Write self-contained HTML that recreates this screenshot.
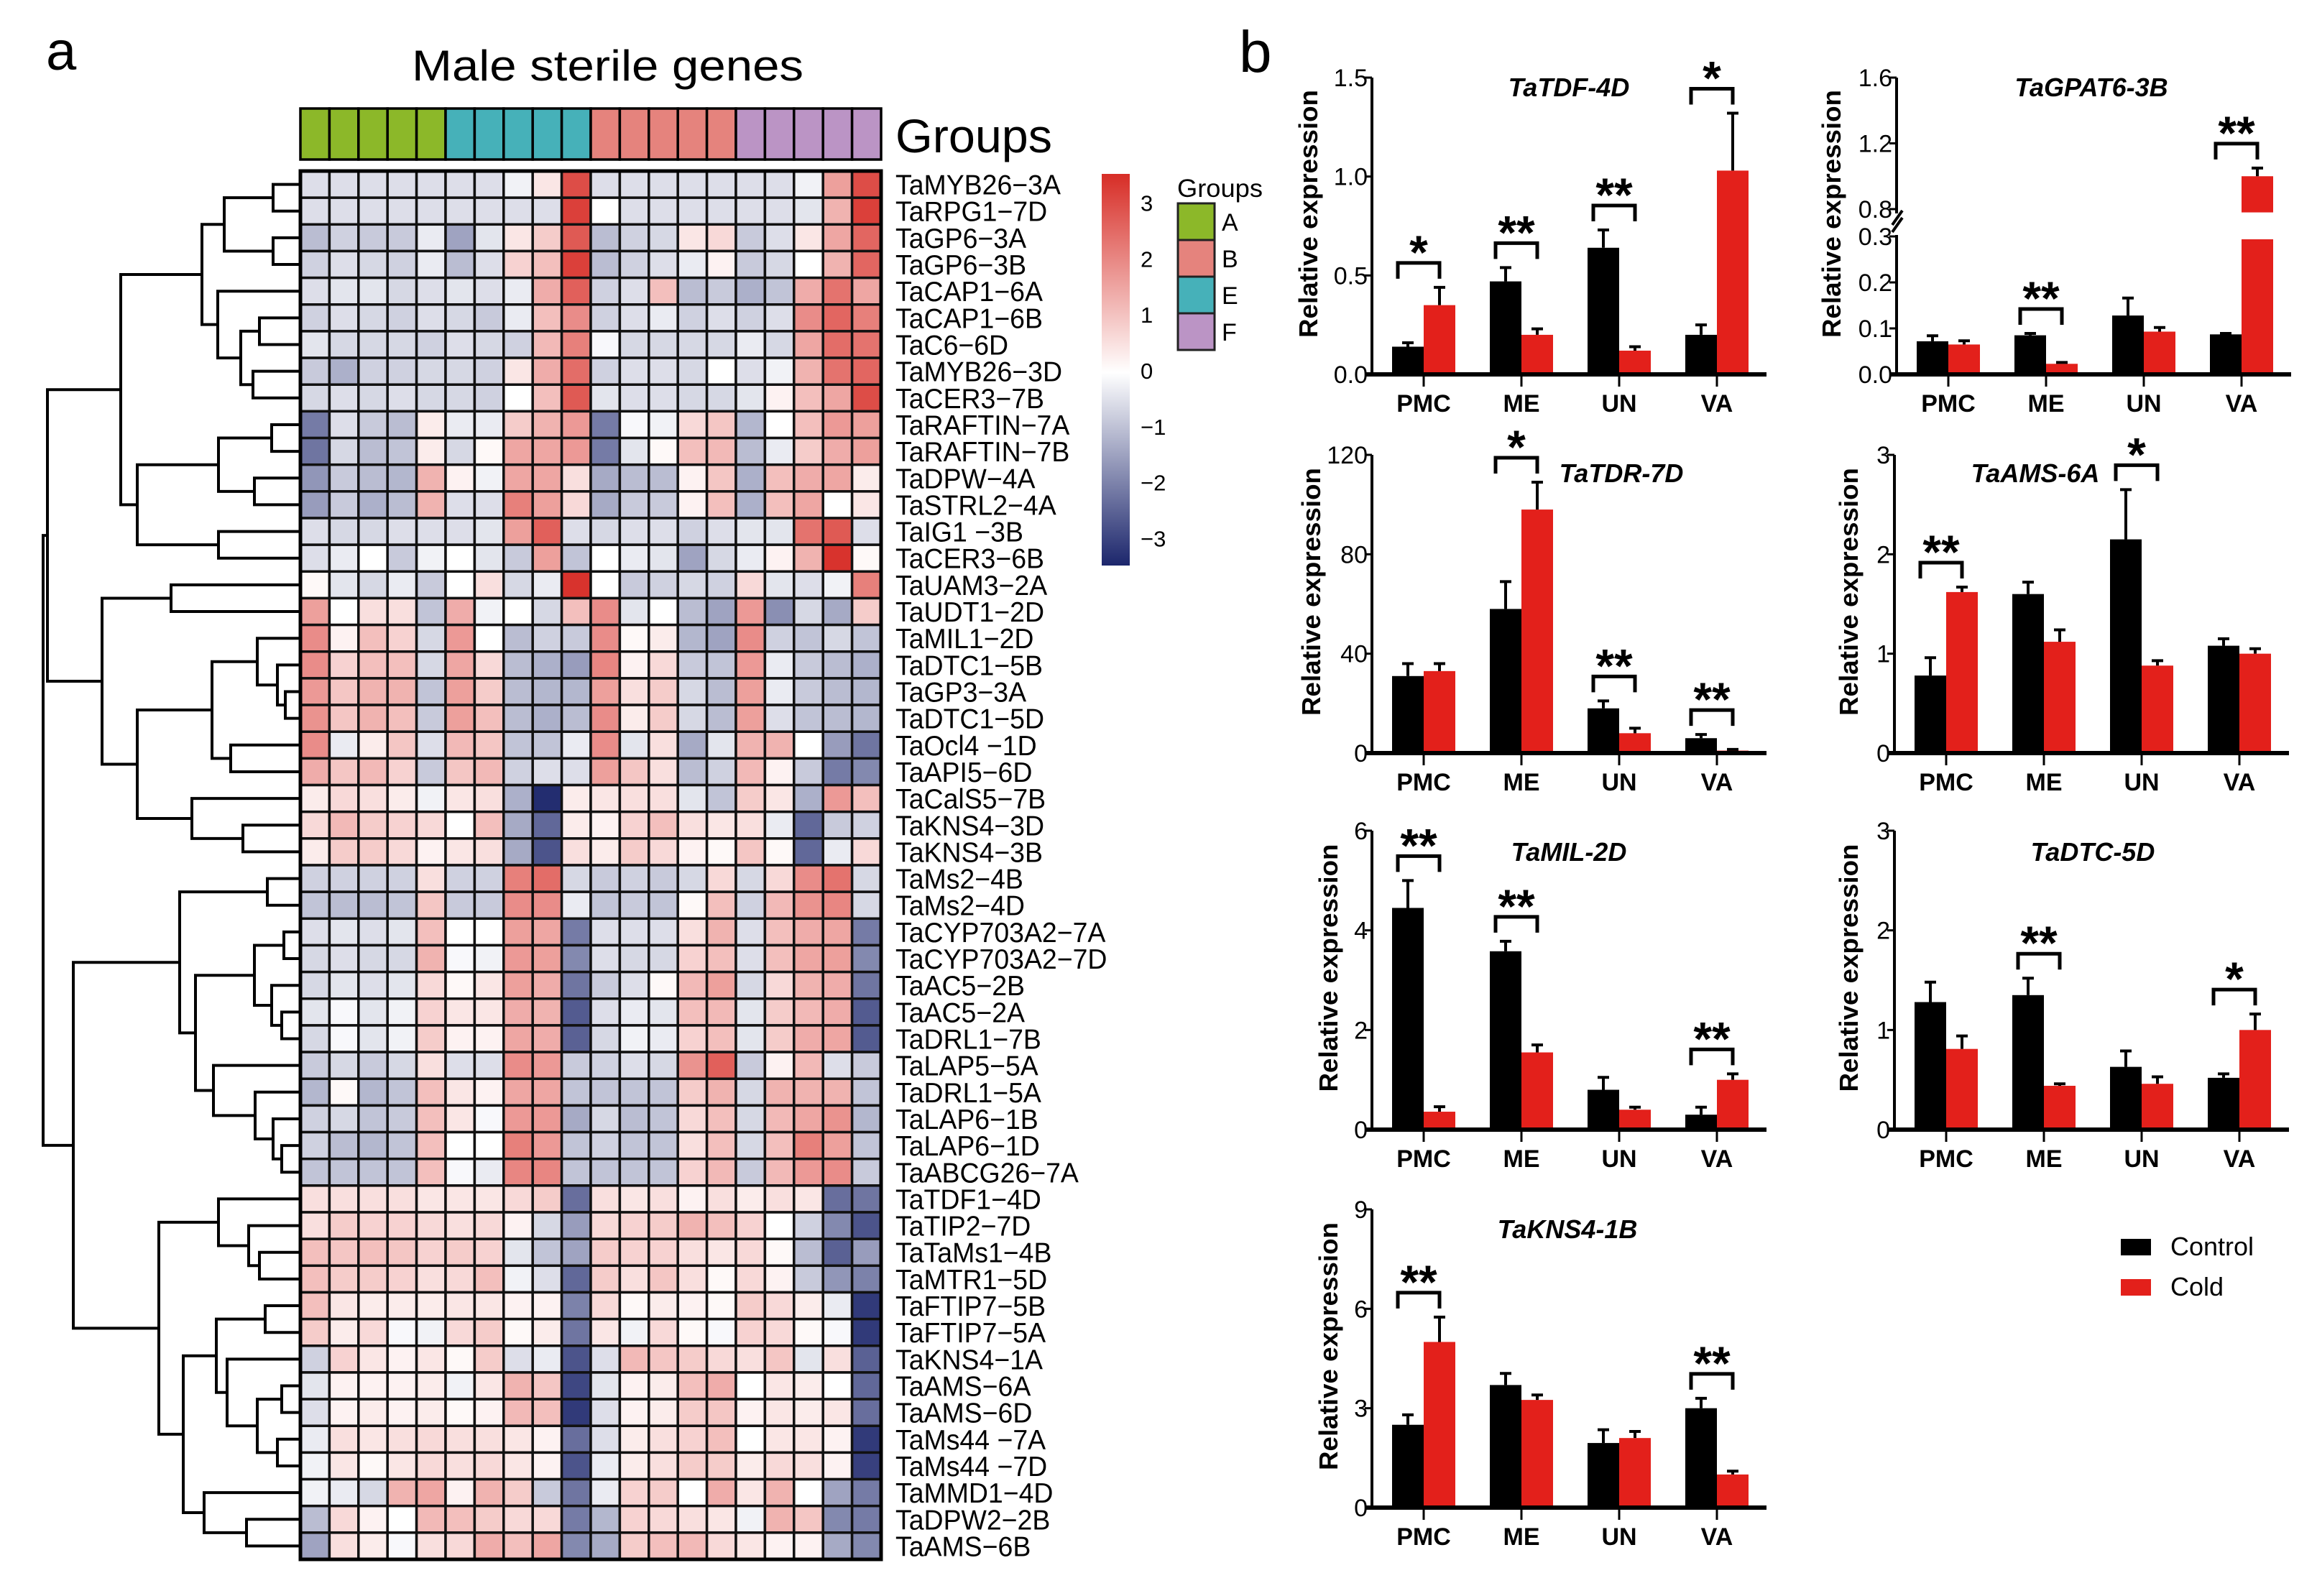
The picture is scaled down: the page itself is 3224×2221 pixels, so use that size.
<!DOCTYPE html>
<html><head><meta charset="utf-8"><title>Male sterile genes</title>
<style>html,body{margin:0;padding:0;background:#fff}svg{display:block}text{font-family:"Liberation Sans",Arial,sans-serif}</style>
</head><body>
<svg id="fig" xmlns="http://www.w3.org/2000/svg" width="3224" height="2221" viewBox="0 0 3224 2221">
<rect x="0" y="0" width="3224" height="2221" fill="#fff"/>
<text x="64" y="97" font-size="76">a</text>
<text x="573" y="112" font-size="60" textLength="545" lengthAdjust="spacingAndGlyphs">Male sterile genes</text>
<text x="1246" y="212" font-size="66" textLength="218" lengthAdjust="spacingAndGlyphs">Groups</text>
<text x="1724" y="100" font-size="82">b</text>
</svg>
<script>
const groupLetters=["A","A","A","A","A","E","E","E","E","E","B","B","B","B","B","F","F","F","F","F"];
const legendGroups=["A","B","E","F"];
const colorbarTicks=[3,2,1,0,-1,-2,-3];
const rowLabels=["TaMYB26−3A","TaRPG1−7D","TaGP6−3A","TaGP6−3B","TaCAP1−6A","TaCAP1−6B","TaC6−6D","TaMYB26−3D","TaCER3−7B","TaRAFTIN−7A","TaRAFTIN−7B","TaDPW−4A","TaSTRL2−4A","TaIG1 −3B","TaCER3−6B","TaUAM3−2A","TaUDT1−2D","TaMIL1−2D","TaDTC1−5B","TaGP3−3A","TaDTC1−5D","TaOcl4 −1D","TaAPI5−6D","TaCalS5−7B","TaKNS4−3D","TaKNS4−3B","TaMs2−4B","TaMs2−4D","TaCYP703A2−7A","TaCYP703A2−7D","TaAC5−2B","TaAC5−2A","TaDRL1−7B","TaLAP5−5A","TaDRL1−5A","TaLAP6−1B","TaLAP6−1D","TaABCG26−7A","TaTDF1−4D","TaTIP2−7D","TaTaMs1−4B","TaMTR1−5D","TaFTIP7−5B","TaFTIP7−5A","TaKNS4−1A","TaAMS−6A","TaAMS−6D","TaMs44 −7A","TaMs44 −7D","TaMMD1−4D","TaDPW2−2B","TaAMS−6B"];
const heatValues=[
[-0.5,-0.5,-0.5,-0.5,-0.5,-0.5,-0.5,-0.2,0.4,2.8,-0.5,-0.5,-0.5,-0.5,-0.5,-0.5,-0.5,-0.2,1.5,2.8],
[-0.5,-0.5,-0.5,-0.5,-0.5,-0.5,-0.5,-0.5,-0.5,3,0,-0.5,-0.5,-0.5,-0.5,-0.5,-0.5,-0.4,1.2,3],
[-1,-0.7,-0.8,-0.8,-0.3,-1.4,-0.4,0.4,0.8,2.6,-1,-0.7,-0.6,0.4,0.6,-0.8,-0.5,0.4,1.4,2.4],
[-0.7,-0.5,-0.6,-0.7,-0.3,-1,-0.5,0.7,1,3,-1,-0.7,-0.5,-0.3,0.2,-0.8,-0.6,0,1.2,2.4],
[-0.5,-0.4,-0.4,-0.6,-0.5,-0.4,-0.5,-0.3,1.3,2.5,-0.7,-0.5,1,-1,-0.8,-1.2,-0.9,1.3,2.2,1.4],
[-0.7,-0.5,-0.6,-0.7,-0.5,-0.6,-0.8,-0.3,1,1.8,-0.7,-0.5,-0.3,-0.7,-0.5,-0.7,-0.5,1.8,2.4,2],
[-0.4,-0.6,-0.6,-0.6,-0.7,-0.5,-0.6,-0.7,1.1,2,-0.1,-0.6,-0.6,-0.6,-0.6,-0.3,-0.6,1.4,2.3,2.2],
[-0.8,-1.2,-0.7,-0.7,-0.6,-0.6,-0.7,0.4,1.3,2.3,-0.7,-0.5,-0.5,-0.6,0,-0.5,-0.2,1.2,2.2,2.4],
[-0.6,-0.5,-0.6,-0.5,-0.6,-0.6,-0.7,0,1,2.6,-0.4,-0.5,-0.5,-0.6,-0.6,-0.4,0.2,1,1.4,2.8],
[-2,-0.5,-0.8,-1,0.3,-0.3,-0.3,0.8,1.2,1.6,-2,-0.1,-0.2,0.6,0.9,-1.1,0,1,1.6,1.5],
[-2.1,-0.6,-1,-0.9,0.3,-0.6,0.1,1.4,1.4,1.6,-2,-0.4,0.1,1,1.1,-1,-0.3,0.8,1.3,1.5],
[-1.6,-0.8,-1,-1.1,1.2,0.2,-0.2,1.4,1.4,0.5,-1.3,-1,-1,0.2,0.9,-1.2,1,1.3,1.4,0.3],
[-1.5,-0.8,-1.2,-1,1.2,-0.5,-0.5,2,1.5,0.6,-1.3,-0.8,-0.8,0.2,1,-1.2,1,1.4,0,0.4],
[-0.5,-0.6,-0.6,-0.5,-0.5,-0.5,-0.4,1.5,2.5,-0.5,-0.6,-0.5,-0.5,-0.7,-0.5,-0.4,-0.4,2.2,2.6,-0.5],
[-0.5,-0.3,0,-0.8,-0.2,0,-0.4,-0.8,1.5,-0.9,0,-0.3,-0.4,-1.4,-0.6,-0.3,0.2,1.2,3.2,0.1],
[0.1,-0.4,-0.6,-0.3,-0.8,0,0.5,-0.6,-0.3,3.2,0,-0.8,-0.7,-0.6,-0.7,0.6,-0.4,-0.5,-0.2,2],
[1.5,0,0.5,0.5,-0.9,1.3,-0.2,0,-0.6,1,1.8,-0.4,0,-1,-1.4,1.6,-1.7,-0.6,-1.3,0.8],
[1.8,0.2,1,0.7,-0.6,1.6,0,-1,-0.7,-0.8,1.8,0.1,0.3,-1.1,-1.4,1.8,-0.7,-0.9,-0.6,-0.9],
[1.8,0.7,1,1,-0.6,1.4,0.6,-1,-1.2,-1.5,1.9,0.2,0.6,-0.8,-0.9,1.6,-0.3,-0.8,-1,-1.2],
[1.6,0.9,1.2,1.2,-0.9,1.5,0.8,-1,-1.1,-1.1,1.5,0.5,0.8,-0.6,-1,1.5,-0.3,-0.8,-1,-1.1],
[1.7,0.9,1.2,1,-0.8,1.5,1,-1,-1.2,-1,1.8,0.3,0.8,-0.6,-1,1.5,-0.5,-0.9,-1,-1.1],
[1.8,-0.3,0.3,0.9,-0.5,1.1,0.9,-0.9,-0.9,-0.3,1.8,-0.4,0.5,-1.3,-0.4,1.2,1.2,0,-1.5,-2.1],
[1.3,0.9,1.1,0.7,-0.8,0.9,1.1,-0.7,-0.5,-0.5,1.5,0.9,0.5,-1,-0.7,1.1,0.2,-0.8,-2,-1.8],
[0.3,0.6,0.5,0.3,-0.2,0.4,0.5,-1.2,-3.2,0.3,0.4,0.5,0.5,-0.4,-0.9,0.8,0.4,-1.2,1.6,1],
[0.6,1.1,0.8,0.7,0.6,0,1,-1.3,-2.3,0.3,0.2,0.7,1,0.5,0.4,0.5,-0.3,-2.3,-0.8,-0.7],
[0.3,0.8,0.8,0.6,0.2,0.4,0.5,-1.3,-2.6,0.5,0.3,0.8,0.6,0.2,0.1,0.9,0.1,-2.3,-0.3,0.6],
[-0.7,-0.7,-0.7,-0.7,0.5,-0.7,-0.7,2,2.3,-0.6,-0.8,-0.7,-0.8,-0.6,0.6,-0.6,0.6,1.8,2.2,-0.6],
[-0.9,-1,-1,-0.9,0.9,-0.8,-0.8,1.8,1.8,-0.3,-0.9,-0.8,-0.9,0.1,1,-0.7,1.1,1.7,1.9,-0.6],
[-0.5,-0.4,-0.5,-0.4,1,0,0,1.5,1.4,-2,-0.5,-0.5,-0.5,0.5,1.2,-0.5,1,1.3,1.4,-2],
[-0.6,-0.5,-0.6,-0.6,1.2,-0.1,-0.2,1.6,1.5,-1.8,-0.5,-0.6,-0.6,0.7,1,-0.5,1,1.4,1.5,-1.8],
[-0.6,-0.4,-0.5,-0.4,0.6,0.1,0.4,1.5,1.3,-2.1,-0.8,-0.5,0.1,1.1,1.5,-0.6,0.6,1.2,1.3,-2.1],
[-0.4,-0.1,-0.4,-0.2,0.7,0.4,0.4,1.3,1.2,-2.5,-0.5,-0.3,-0.4,1,1.1,-0.4,0.8,1.1,1.3,-2.5],
[-0.6,-0.1,-0.4,-0.2,0.8,0.2,0.2,1.4,1.3,-2.4,-0.6,-0.2,-0.3,0.7,1,-0.4,0.8,1.3,1.4,-2.5],
[-0.8,-0.6,-0.8,-0.6,0.5,-0.5,-0.5,1.8,1.6,-0.8,-0.7,-0.5,-0.6,1.7,2.5,-0.8,0.2,1.1,-0.5,-0.8],
[-1.1,0.1,-1.1,-0.9,1,0.4,0.2,1.4,1.4,-0.9,-0.9,-0.9,-0.9,0.8,1.2,-0.6,1.2,1.2,1.2,-0.9],
[-0.7,-0.6,-0.9,-0.8,1,0.4,-0.1,1.6,1.6,-1.3,-0.6,-1,-0.9,0.6,1,-0.6,1.1,1.4,1.7,-1.1],
[-0.7,-1,-1.1,-0.9,1,0,0,2,1.6,-0.9,-0.7,-0.9,-0.9,0.5,1,-0.6,1,2,1.5,-0.9],
[-0.9,-0.9,-0.9,-0.9,1,-0.1,-0.3,1.9,1.9,-0.9,-0.9,-0.9,-0.9,0.7,1.1,-0.8,1.1,1.6,1.8,-0.8],
[0.5,0.5,0.5,0.5,0.4,0.4,0.4,0.6,0.8,-2.2,0.5,0.4,0.5,0.2,0.5,0.3,0.5,0.4,-2.2,-2.1],
[0.5,0.8,0.7,0.7,0.6,0.5,0.6,0.2,-0.6,-1.5,0.6,0.7,0.8,1.2,1,0.7,0,-0.7,-1.8,-2.6],
[1,0.9,1,0.9,0.7,0.8,0.7,-0.4,-0.9,-1.4,0.8,0.7,0.7,0.5,0.4,0.6,0.1,-1,-2.4,-1.5],
[1,0.8,0.8,0.7,0.5,0.6,1,-0.2,-0.5,-2.3,0.8,0.5,0.9,0.5,0.1,0.6,0.2,-0.8,-1.6,-1.9],
[1,0.4,0.3,0.3,0.3,0.4,0.4,0.2,0.2,-1.9,0.6,0.1,0.3,0.2,0.1,0.8,0.6,0.3,-0.3,-3],
[0.8,0.3,0.6,-0.1,-0.2,0.6,0.8,0.1,0.3,-2.1,0.4,-0.2,0.6,0.1,-0.1,0.7,0.6,0.1,-0.1,-3],
[-0.7,0.7,0.4,0.2,0.4,0.1,0.8,-0.5,-0.3,-2.6,-0.5,1.1,0.9,0.8,0.6,0.5,0.9,-0.4,0.5,-2.4],
[-0.4,0.2,0.2,0.2,0.3,-0.2,0.4,1.2,0.9,-2.8,-0.4,0.2,0.3,1,1.3,0,0.4,0.3,0,-2.3],
[-0.5,0.2,0.3,0.2,0.3,0.1,0.2,1.1,1,-3,-0.5,0.2,0.3,0.8,0.9,0.2,0.4,0.3,0.4,-2.2],
[-0.3,0.5,0.4,0.5,0.6,0.5,0.5,0.4,0.2,-2.2,-0.5,0.3,0.5,0.7,1,0,0.4,0.4,0.2,-3],
[-0.2,0.4,0.1,0.4,0.6,0.5,0.6,0.4,0.2,-2.6,-0.3,0.3,0.5,0.8,0.8,0.3,0.6,0.5,0.2,-2.9],
[-0.2,-0.3,-0.6,1.2,1.4,0.2,1.2,0.8,-0.8,-2.1,-0.3,0.7,0.8,0,1.3,0.4,1.2,0,-1.4,-2],
[-1,0.6,0.2,0,1.1,1,0.8,0.6,0.6,-2,-1.1,0.7,0.6,0.5,0.4,-0.2,1.2,0.9,-1.8,-2],
[-1.4,0.5,0.3,-0.1,0.5,0.6,1.3,1,1.4,-1.8,-1.3,0.8,1,1.1,0.6,0.4,0.2,0.2,-1.3,-1.8]];

const barGroups=["PMC","ME","UN","VA"];
const tdfControl=[0.14,0.47,0.64,0.2], tdfControlErr=[0.02,0.07,0.09,0.05];
const tdfCold=[0.35,0.2,0.12,1.03], tdfColdErr=[0.09,0.03,0.02,0.29];
const tdfSig=["*","**","**","*"];
const tdfTicks=[0,0.5,1.0,1.5], tdfTickLabels=["0.0","0.5","1.0","1.5"];
const gpatControl=[0.072,0.085,0.128,0.087], gpatControlErr=[0.012,0.004,0.038,0.002];
const gpatCold=[0.065,0.023,0.093,1.0], gpatColdErr=[0.008,0.003,0.009,0.05];
const gpatSig=["","**","","**"];
const gpatTicks=[0,0.1,0.2,0.3,0.8,1.2,1.6], gpatTickLabels=["0.0","0.1","0.2","0.3","0.8","1.2","1.6"];
const tdrControl=[31,58,18,6], tdrControlErr=[5,11,3,1.5];
const tdrCold=[33,98,8,1], tdrColdErr=[3,11,2,0.5];
const tdrSig=["","*","**","**"];
const tdrTicks=[0,40,80,120], tdrTickLabels=["0","40","80","120"];
const amsControl=[0.78,1.6,2.15,1.08], amsControlErr=[0.18,0.12,0.5,0.07];
const amsCold=[1.62,1.12,0.88,1.0], amsColdErr=[0.05,0.12,0.05,0.05];
const amsSig=["**","","*",""];
const amsTicks=[0,1,2,3], amsTickLabels=["0","1","2","3"];
const milControl=[4.45,3.58,0.8,0.3], milControlErr=[0.55,0.2,0.25,0.15];
const milCold=[0.36,1.55,0.4,1.0], milColdErr=[0.1,0.15,0.05,0.12];
const milSig=["**","**","","**"];
const milTicks=[0,2,4,6], milTickLabels=["0","2","4","6"];
const dtcControl=[1.28,1.35,0.63,0.52], dtcControlErr=[0.2,0.17,0.16,0.04];
const dtcCold=[0.81,0.44,0.46,1.0], dtcColdErr=[0.13,0.02,0.07,0.16];
const dtcSig=["","**","","*"];
const dtcTicks=[0,1,2,3], dtcTickLabels=["0","1","2","3"];
const knsControl=[2.5,3.7,1.95,3.0], knsControlErr=[0.3,0.35,0.4,0.3];
const knsCold=[5.0,3.25,2.1,1.0], knsColdErr=[0.75,0.15,0.2,0.1];
const knsSig=["**","","","**"];
const knsTicks=[0,3,6,9], knsTickLabels=["0","3","6","9"];

const NS="http://www.w3.org/2000/svg";
const svg=document.getElementById('fig');
function mk(tag,attrs,parent){const e=document.createElementNS(NS,tag);for(const k in attrs)e.setAttribute(k,attrs[k]);(parent||svg).appendChild(e);return e;}
function txt(s,attrs,parent){const e=mk('text',attrs,parent);e.textContent=s;return e;}

// ---------- Heatmap ----------
const hmLeft=418, hmRight=1226, hmTop=238, hmBottom=2170;
const colW=(hmRight-hmLeft)/20, rowH=(hmBottom-hmTop)/52;
const groupColor={A:"#8cb829",E:"#46b1b9",B:"#e5837d",F:"#bb94c5"};
function heatColor(v){const t=Math.max(-1,Math.min(1,v/3.3));let c;
 if(t>=0)c=[255+(215-255)*t,255+(45-255)*t,255+(38-255)*t];else{const s=-t;c=[255+(28-255)*s,255+(38-255)*s,255+(108-255)*s];}
 return "rgb("+c.map(x=>Math.round(x)).join(",")+")";}
const hmG=mk('g',{});


groupLetters.forEach((g,j)=>{
 const r=mk('rect',{x:hmLeft+j*colW,y:151,width:colW,height:71,fill:groupColor[g],stroke:"#000","stroke-width":3.5},hmG);
 
 
});
heatValues.forEach((row,i)=>{
 row.forEach((v,j)=>{
  const r=mk('rect',{x:hmLeft+j*colW,y:hmTop+i*rowH,width:colW,height:rowH,fill:heatColor(v),stroke:"#111","stroke-width":3.5},hmG);
  
  
 });
 const t=txt(rowLabels[i],{x:0,y:0,"font-size":39,transform:`translate(1246,${hmTop+(i+0.5)*rowH+14}) scale(0.96,1)`},hmG);
 
 
});
const hb=mk('rect',{x:hmLeft,y:hmTop,width:hmRight-hmLeft,height:hmBottom-hmTop,fill:"none",stroke:"#000","stroke-width":5},hmG);



// ---------- Dendrogram ----------
const tree=[60,
 [66,[168,[281,[312,[380,0,1],[380,2,3]],[303,4,[335,[361,5,6],[352,7,8]]]],
        [191,[304,[378,9,10],[354,11,12]],[304,13,14]]],
     [142,[238,15,16],[191,[295,[358,17,[386,18,[397,19,20]]],[321,21,22]],[267,23,[338,24,25]]]]],
 [102,[250,[372,26,27],[272,[354,[395,28,29],[378,30,[392,31,32]]],[297,33,[355,34,[380,35,[392,36,37]]]]]],
      [221,[304,38,[346,39,[361,40,41]]],[255,[301,[369,42,43],[316,44,[358,[392,45,46],[386,47,48]]]],[284,49,[343,50,51]]]]]];
const dG=mk('g',{fill:"none",stroke:"#000","stroke-width":4,"stroke-linecap":"square"});


function drawNode(n){
 if(typeof n==="number")return {x:hmLeft,y:hmTop+(n+0.5)*rowH};
 const a=drawNode(n[1]),b=drawNode(n[2]),h=n[0];
 const p=mk('path',{d:`M${a.x},${a.y}H${h}V${b.y}H${b.x}`},dG);
 
 
 return {x:h,y:(a.y+b.y)/2};
}
drawNode(tree);

// ---------- Colorbar ----------
const cbTop=242, cbBot=787, cbX=1533, cbW=39;
const defs=mk('defs',{});
const lg=mk('linearGradient',{id:"cbg",x1:0,y1:0,x2:0,y2:1},defs);
[[0,heatColor(3.5)],[0.507,"#ffffff"],[1,heatColor(-3.5)]].forEach(s=>mk('stop',{offset:s[0],"stop-color":s[1]},lg));
const cb=mk('rect',{x:cbX,y:cbTop,width:cbW,height:cbBot-cbTop,fill:"url(#cbg)"});


const cbScale=v=>516-v*77.8;
colorbarTicks.forEach(v=>{
 const t=txt(v<0?"−"+(-v):String(v),{x:1587,y:cbScale(v)+11,"font-size":31});
 
 
});
const glt=txt("Groups",{x:1638,y:274,"font-size":35,textLength:119,lengthAdjust:"spacingAndGlyphs"});


legendGroups.forEach((g,i)=>{
 const r=mk('rect',{x:1639,y:283+i*51,width:51,height:51,fill:groupColor[g],stroke:"#222","stroke-width":3});
 
 
 const t=txt(g,{x:1700,y:283+i*51+38,"font-size":34});
 
 
});

// ---------- Bar charts ----------
const panels=[
 {id:"tdf",title:"TaTDF-4D",ax:1909,y0:521,yTop:108,max:1.5,ticks:tdfTicks,labels:tdfTickLabels,ctrl:tdfControl,ctrlErr:tdfControlErr,cold:tdfCold,coldErr:tdfColdErr,sig:tdfSig,tx:2183,ty:134,yt:1820},
 {id:"gpat",title:"TaGPAT6-3B",ax:2639,y0:521,yTop:108,max:1.6,broken:true,ticks:gpatTicks,labels:gpatTickLabels,ctrl:gpatControl,ctrlErr:gpatControlErr,cold:gpatCold,coldErr:gpatColdErr,sig:gpatSig,tx:2910,ty:134,yt:2548},
 {id:"tdr",title:"TaTDR-7D",ax:1909,y0:1048,yTop:633,max:120,ticks:tdrTicks,labels:tdrTickLabels,ctrl:tdrControl,ctrlErr:tdrControlErr,cold:tdrCold,coldErr:tdrColdErr,sig:tdrSig,tx:2256,ty:671,yt:1824},
 {id:"ams",title:"TaAMS-6A",ax:2636,y0:1048,yTop:633,max:3,ticks:amsTicks,labels:amsTickLabels,ctrl:amsControl,ctrlErr:amsControlErr,cold:amsCold,coldErr:amsColdErr,sig:amsSig,tx:2832,ty:671,yt:2572},
 {id:"mil",title:"TaMIL-2D",ax:1909,y0:1572,yTop:1156,max:6,ticks:milTicks,labels:milTickLabels,ctrl:milControl,ctrlErr:milControlErr,cold:milCold,coldErr:milColdErr,sig:milSig,tx:2183,ty:1198,yt:1848},
 {id:"dtc",title:"TaDTC-5D",ax:2636,y0:1572,yTop:1156,max:3,ticks:dtcTicks,labels:dtcTickLabels,ctrl:dtcControl,ctrlErr:dtcControlErr,cold:dtcCold,coldErr:dtcColdErr,sig:dtcSig,tx:2912,ty:1198,yt:2572},
 {id:"kns",title:"TaKNS4-1B",ax:1909,y0:2098,yTop:1683,max:9,ticks:knsTicks,labels:knsTickLabels,ctrl:knsControl,ctrlErr:knsControlErr,cold:knsCold,coldErr:knsColdErr,sig:knsSig,tx:2181,ty:1723,yt:1848}
];
panels.forEach(P=>{
 const g=mk('g',{});
 
 
 let ys;
 if(P.broken){ys=v=>v<=0.3?P.y0-v/0.3*192:291-(v-0.8)/0.8*183;}
 else ys=v=>P.y0-v/P.max*(P.y0-P.yTop);
 const bw=44, pitch=136;
 const bars=(vals,errs,off,color,series)=>{
  vals.forEach((v,i)=>{
   const x=P.ax+28+i*pitch+off;
   if(P.broken&&v>0.3){
    const r1=mk('rect',{x:x,y:ys(0.3)+4,width:bw,height:P.y0-ys(0.3)-4,fill:color},g);
    
    
    const r2=mk('rect',{x:x,y:ys(v),width:bw,height:ys(0.78)-ys(v),fill:color},g);
    
    
   } else {
    const r=mk('rect',{x:x,y:ys(v),width:bw,height:P.y0-ys(v),fill:color},g);
    
    
   }
   const cx=x+bw/2, yt=ys(v+errs[i]);
   const e=mk('path',{d:`M${cx},${ys(v)}V${yt}M${cx-8},${yt}H${cx+8}`,stroke:"#000","stroke-width":4,fill:"none"},g);
   
   
  });
 };
 bars(P.ctrl,P.ctrlErr,0,"#000","control");
 bars(P.cold,P.coldErr,bw,"#e3201b","cold");
 P.sig.forEach((s,i)=>{
  if(!s)return;
  const top=Math.min(ys(P.ctrl[i]+P.ctrlErr[i]),ys(P.cold[i]+P.coldErr[i]));
  const legB=top-12, bt=legB-22;
  const x1=P.ax+28+i*pitch+bw/2-14, x2=x1+bw+28-14;
  const b=mk('path',{d:`M${x1},${legB}V${bt}H${x2}V${legB}`,stroke:"#000","stroke-width":5,fill:"none"},g);
  
  
  const t=txt(s,{x:(x1+x2)/2,y:bt+8,"font-size":66,"font-weight":"bold","text-anchor":"middle"},g);
  
  
 });
 const xa=mk('line',{x1:P.ax-8,y1:P.y0,x2:P.ax+549,y2:P.y0,stroke:"#000","stroke-width":6},g);
 
 
 if(P.broken){
  const ya=mk('path',{d:`M${P.ax},${P.y0}V${ys(0.3)-2}M${P.ax},${ys(0.8)+6}V${P.yTop}M${P.ax-6},${ys(0.3)-6}L${P.ax+8},${ys(0.3)-26}M${P.ax-6},${ys(0.8)+22}L${P.ax+8},${ys(0.8)+2}`,stroke:"#000","stroke-width":4,fill:"none"},g);
  
  
 } else {
  const ya=mk('line',{x1:P.ax,y1:P.y0,x2:P.ax,y2:P.yTop,stroke:"#000","stroke-width":4},g);
  
  
 }
 P.ticks.forEach((v,k)=>{
  const y=ys(v);
  const tl=mk('line',{x1:P.ax-10,y1:y,x2:P.ax,y2:y,stroke:"#000","stroke-width":3},g);
  
  
  const t=txt(P.labels[k],{x:P.ax-6,y:y+12,"font-size":34,"text-anchor":"end"},g);
  
  
 });
 barGroups.forEach((c,i)=>{
  const cx=P.ax+28+i*pitch+bw;
  const tk=mk('line',{x1:cx,y1:P.y0,x2:cx,y2:P.y0+17,stroke:"#000","stroke-width":3},g);
  
  
  const t=txt(c,{x:cx,y:P.y0+52,"font-size":34,"font-weight":"bold","text-anchor":"middle"},g);
  
  
 });
 const tt=txt(P.title,{x:P.tx,y:P.ty,"font-size":36,"font-weight":"bold","font-style":"italic","text-anchor":"middle"},g);
 
 
 const cy=(P.y0+P.yTop)/2-17;
 const yt=txt("Relative expression",{x:0,y:0,"font-size":36,"font-weight":"bold","text-anchor":"middle",textLength:345,lengthAdjust:"spacingAndGlyphs",transform:`translate(${P.yt+13},${cy}) rotate(-90)`},g);
 
 
});
const lgG=mk('g',{});


[["Control","#000",1724],["Cold","#e3201b",1780]].forEach(L=>{
 const r=mk('rect',{x:2951,y:L[2],width:42,height:23,fill:L[1]},lgG);
 
 
 const t=txt(L[0],{x:3020,y:L[2]+23,"font-size":36},lgG);
 
 
});
</script>
</body></html>
